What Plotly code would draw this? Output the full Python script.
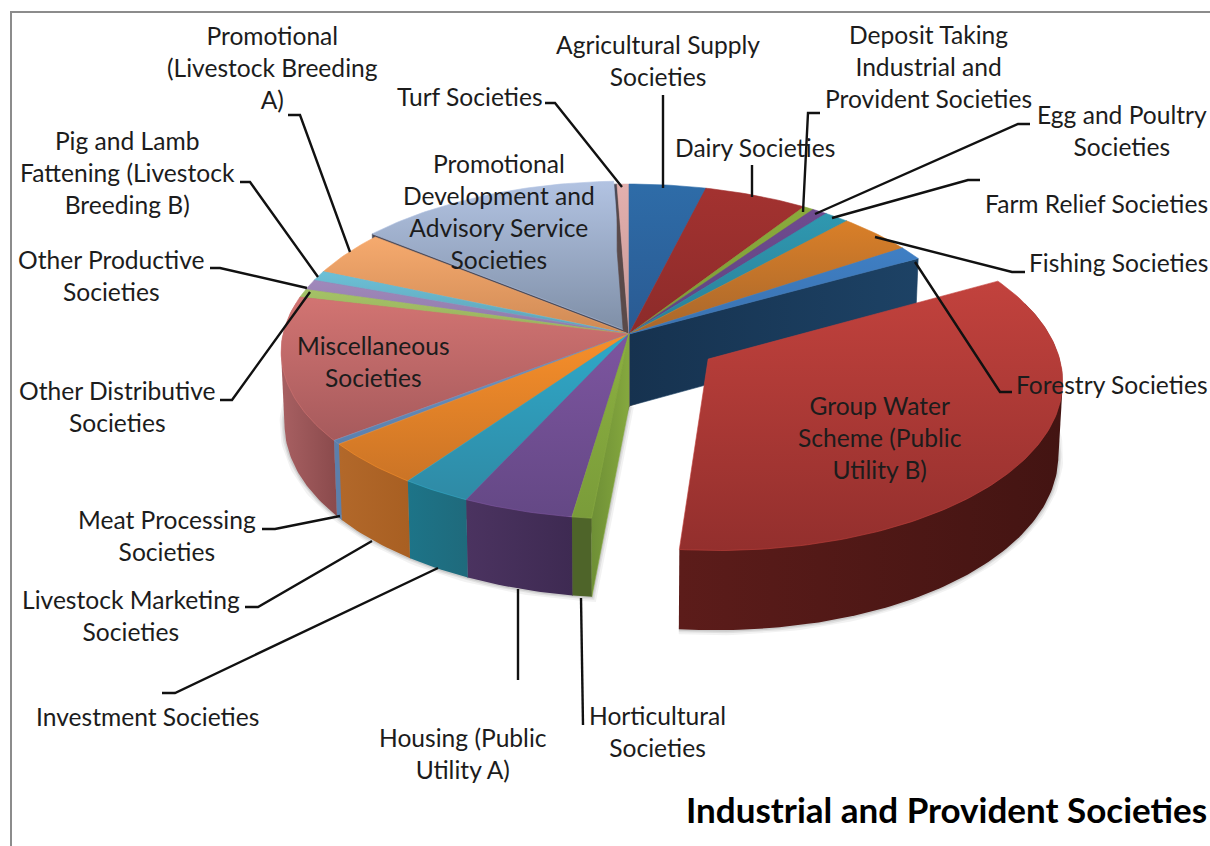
import numpy as np
import plotly.graph_objects as go

# ---------- data (share of societies, in %) ----------
categories = ["Agricultural Supply Societies", "Dairy Societies",
              "Deposit Taking Industrial and Provident Societies", "Egg and Poultry Societies",
              "Farm Relief Societies", "Fishing Societies", "Forestry Societies",
              "Group Water Scheme (Public Utility B)", "Horticultural Societies",
              "Housing (Public Utility A)", "Investment Societies", "Livestock Marketing Societies",
              "Meat Processing Societies", "Miscellaneous Societies", "Other Distributive Societies",
              "Other Productive Societies", "Pig and Lamb Fattening (Livestock Breeding B)",
              "Promotional (Livestock Breeding A)", "Promotional Development and Advisory Service Societies",
              "Turf Societies"]
values = [3.94, 5.33, 0.53, 0.78, 1.28, 3.89, 1.30, 34.50, 0.81, 4.64,
          2.94, 4.39, 0.39, 13.94, 0.80, 1.00, 0.95, 4.31, 13.67, 0.61]
pulls = [0, 0, 0, 0, 0, 0, 0, 0.27, 0, 0, 0, 0, 0, 0, 0, 0, 0, 0, 0.024, 0]

top_light = ["#2e6ca8", "#a33230", "#8aab3c", "#6f4b8f", "#2f98b0", "#d97f28", "#3f7fc4", "#c2423d",
             "#8cb040", "#7d55a0", "#2fa8c8", "#f78f2a", "#6e97c4", "#d27472", "#a4c266", "#a088bb",
             "#6cc0d6", "#f6aa6e", "#b2c3e2", "#e3b0ae"]
top_dark = ["#2a5a92", "#8c2b2a", "#7a9a38", "#5f4480", "#2a7f98", "#a8672c", "#3a72b0", "#932f2d",
            "#7a9c3a", "#644885", "#2f8aa5", "#cb7426", "#5a80ae", "#a65a5c", "#9ab05e", "#8f7aa8",
            "#5ea0b5", "#cf8a55", "#7f8fa7", "#c69795"]
wall_left = ["#1f4a78", "#6b2020", "#5a7028", "#4a3360", "#1d7488", "#a85f22", "#16324f", "#5c1c1a",
             "#4e6429", "#4b3360", "#1d7488", "#b2682a", "#5c7fab", "#a86062", "#6a7c40", "#5f4e70",
             "#3f7c8c", "#5a6270", "#4a4a58", "#5a4a4a"]
wall_right = ["#1f4a78", "#6b2020", "#5a7028", "#4a3360", "#1d7488", "#a85f22", "#1d4265", "#431412",
              "#4e6429", "#3e2a52", "#1f6a7c", "#a85f22", "#5c7fab", "#8a4a4c", "#6a7c40", "#5f4e70",
              "#3f7c8c", "#5a6270", "#4a4a58", "#5a4a4a"]

# ---------- label layout ----------
label_lines = {
    0: (658, 61, "Agricultural Supply<br>Societies"),
    1: (755, 148, "Dairy Societies"),
    2: (928, 67, "Deposit Taking<br>Industrial and<br>Provident Societies"),
    3: (1122, 131, "Egg and Poultry<br>Societies"),
    4: (1096, 204, "Farm Relief Societies"),
    5: (1118, 263, "Fishing Societies"),
    6: (1112, 385, "Forestry Societies"),
    7: (880, 438, "Group Water<br>Scheme (Public<br>Utility B)"),
    8: (657, 732, "Horticultural<br>Societies"),
    9: (463, 754, "Housing (Public<br>Utility A)"),
    10: (147, 717, "Investment Societies"),
    11: (131, 616, "Livestock Marketing<br>Societies"),
    12: (167, 536, "Meat Processing<br>Societies"),
    13: (373, 362, "Miscellaneous<br>Societies"),
    14: (117, 407, "Other Distributive<br>Societies"),
    15: (111, 276, "Other Productive<br>Societies"),
    16: (127, 173, "Pig and Lamb<br>Fattening (Livestock<br>Breeding B)"),
    17: (272, 68, "Promotional<br>(Livestock Breeding<br>A)"),
    18: (499, 212, "Promotional<br>Development and<br>Advisory Service<br>Societies"),
    19: (470, 97, "Turf Societies"),
}
leaders = [
    [(663, 95), (663, 188)],
    [(752, 165), (752, 197)],
    [(820, 113), (808, 113), (803, 212)],
    [(1030, 124), (1018, 124), (815, 214)],
    [(980, 180), (968, 180), (832, 218)],
    [(1025, 272), (1012, 272), (875, 237)],
    [(1012, 392), (1000, 392), (915, 262)],
    [(583, 725), (581, 598)],
    [(518, 680), (518, 589)],
    [(162, 693), (175, 693), (438, 568)],
    [(245, 607), (258, 607), (372, 541)],
    [(262, 529), (275, 529), (340, 516)],
    [(220, 400), (232, 400), (310, 292)],
    [(210, 268), (220, 268), (307, 288)],
    [(240, 182), (250, 182), (318, 277)],
    [(288, 115), (300, 115), (350, 252)],
    [(545, 103), (555, 103), (622, 187)],
]

# ---------- projection of the tilted pie ----------
CX, CY, RX, RY, P, H, F = 629, 334, 346, 165.7, 0.105, 72, 0.99


def proj(u, v, bottom=False):
    s = 1 / (1 - P * v)
    x = CX + RX * u * s
    y = CY + RY * v * s
    if bottom:
        x = CX + (x - CX) * F
        y = CY + (y - CY) * F + H * s
    return x, y


def arc(t0, t1):
    n = max(int(abs(t1 - t0)) + 2, 3)
    return np.radians(np.linspace(t0, t1, n))


def poly(fig, xs, ys, c0, c1, kind, name, width=0.6):
    xs, ys = np.asarray(xs, float), np.asarray(ys, float)
    start, stop = (ys.min(), ys.max()) if kind == "vertical" else (xs.min(), xs.max())
    fig.add_trace(go.Scatter(
        x=np.r_[xs, xs[0]], y=np.r_[ys, ys[0]], mode="lines", fill="toself",
        line=dict(width=width, color=c0 if kind == "vertical" else c1),
        fillgradient=dict(type=kind, colorscale=[[0, c0], [1, c1]], start=start, stop=stop),
        name=name, hoverinfo="name", showlegend=False))


def hull(xs, ys):
    """Convex outline of the swept wall; its inner chord is later covered by the slice's top."""
    pts = sorted(set(zip(np.round(xs, 3).tolist(), np.round(ys, 3).tolist())))

    def half(seq):
        out = []
        for p in seq:
            while len(out) >= 2 and ((out[-1][0] - out[-2][0]) * (p[1] - out[-2][1])
                                     - (out[-1][1] - out[-2][1]) * (p[0] - out[-2][0])) <= 0:
                out.pop()
            out.append(p)
        return out[:-1]

    ring = half(pts) + half(pts[::-1])
    return [p[0] for p in ring], [p[1] for p in ring]


def shadow(fig, xs, ys):
    for w, a in ((10, 0.05), (6, 0.07), (3, 0.09)):
        fig.add_trace(go.Scatter(x=xs, y=ys, mode="lines", showlegend=False, hoverinfo="skip",
                                 line=dict(width=w, color=f"rgba(0,0,0,{a})")))


total = sum(values)
edges = np.r_[0, np.cumsum(values)] / total * 360
mids = (edges[:-1] + edges[1:]) / 2
fig = go.Figure()

# soft shadow along the lower edge: whole pie body, then the pulled slice
g = categories.index("Group Water Scheme (Public Utility B)")
gm = np.radians(mids[g])
gu, gv = pulls[g] * np.sin(gm), -pulls[g] * np.cos(gm)
th = arc(edges[g + 1], 300)
sx, sy = proj(np.sin(th), -np.cos(th), True)
hx, hy = proj(0, 0, True)
shadow(fig, np.r_[hx, sx], np.r_[hy, sy])
th = arc(85, edges[g + 1])
sx, sy = proj(gu + np.sin(th), gv - np.cos(th), True)
shadow(fig, sx, sy)

order = sorted(range(len(values)),
               key=lambda i: (0 if 0 < pulls[i] < 0.1 else 1, -np.cos(np.radians(mids[i]))))

for i in order:
    t0, t1 = edges[i], edges[i + 1]
    m = np.radians(mids[i])
    pu, pv = pulls[i] * np.sin(m), -pulls[i] * np.cos(m)
    name = categories[i]
    th = arc(t0, t1)
    u, v = pu + np.sin(th), pv - np.cos(th)

    # small pull: a dark floor shows through the gap
    if 0 < pulls[i] < 0.1:
        fx, fy = proj(np.r_[0, np.sin(th)], np.r_[0, -np.cos(th)])
        poly(fig, fx, fy, wall_left[i], wall_right[i], "horizontal", name)

    # cut faces
    for tc, vis in ((t0, np.sin(np.radians(t0)) < 0), (t1, np.sin(np.radians(t1)) > 0)):
        if not vis:
            continue
        rc = np.radians(tc)
        ru, rv = pu + np.sin(rc), pv - np.cos(rc)
        a = proj(pu, pv)
        b = proj(ru, rv)
        c = proj(ru, rv, True)
        d = proj(pu, pv, True)
        if name.startswith("Horticultural"):
            c0, c1 = "#6e8f36", "#85a83e"
        else:
            c0, c1 = wall_left[i], wall_right[i]
        poly(fig, [a[0], b[0], c[0], d[0]], [a[1], b[1], c[1], d[1]], c0, c1, "horizontal", name)

    # outer wall (front part only)
    keep = v > -0.2
    if keep.sum() >= 2:
        xt, yt = proj(u[keep], v[keep])
        xb, yb = proj(u[keep], v[keep], True)
        wx, wy = hull(np.r_[xt, xb], np.r_[yt, yb])
        poly(fig, wx, wy, wall_left[i], wall_right[i], "horizontal", name, width=0)

    # top face
    hx, hy = proj(pu, pv)
    xt, yt = proj(u, v)
    poly(fig, np.r_[hx, xt], np.r_[hy, yt], top_light[i], top_dark[i], "vertical", name)

# ---------- text and leader lines ----------
FONT = "Lato, Carlito, sans-serif"
annotations = []
for i, (x, y, txt) in label_lines.items():
    annotations.append(dict(x=x, y=y - 1, xref="x", yref="y", text=txt, showarrow=False,
                            xanchor="center", yanchor="middle", align="center",
                            font=dict(family=FONT, size=24.6, color="#1c1c1c")))
annotations.append(dict(x=1209, y=809, xref="x", yref="y", text="<b>Industrial and Provident Societies</b>",
                        showarrow=False, xanchor="right", yanchor="middle",
                        font=dict(family=FONT, size=35, color="#000000")))

shapes = []
for pts in leaders:
    path = "M " + " L ".join(f"{a} {b}" for a, b in pts)
    shapes.append(dict(type="path", path=path, xref="x", yref="y",
                       line=dict(color="#111111", width=2.4), layer="above"))
shapes.append(dict(type="path", path="M 11 846 L 11 12 L 1210 12", xref="x", yref="y",
                   line=dict(color="#8c8c8c", width=2), layer="below"))

fig.update_layout(
    width=1210, height=846, margin=dict(l=0, r=0, t=0, b=0),
    paper_bgcolor="white", plot_bgcolor="white", showlegend=False,
    xaxis=dict(range=[0, 1210], visible=False, fixedrange=True),
    yaxis=dict(range=[846, 0], visible=False, fixedrange=True),
    annotations=annotations, shapes=shapes,
)
fig.write_html("out.html", config={"displayModeBar": False},
               post_script="document.body.style.margin='0';document.body.style.overflow='hidden';")
